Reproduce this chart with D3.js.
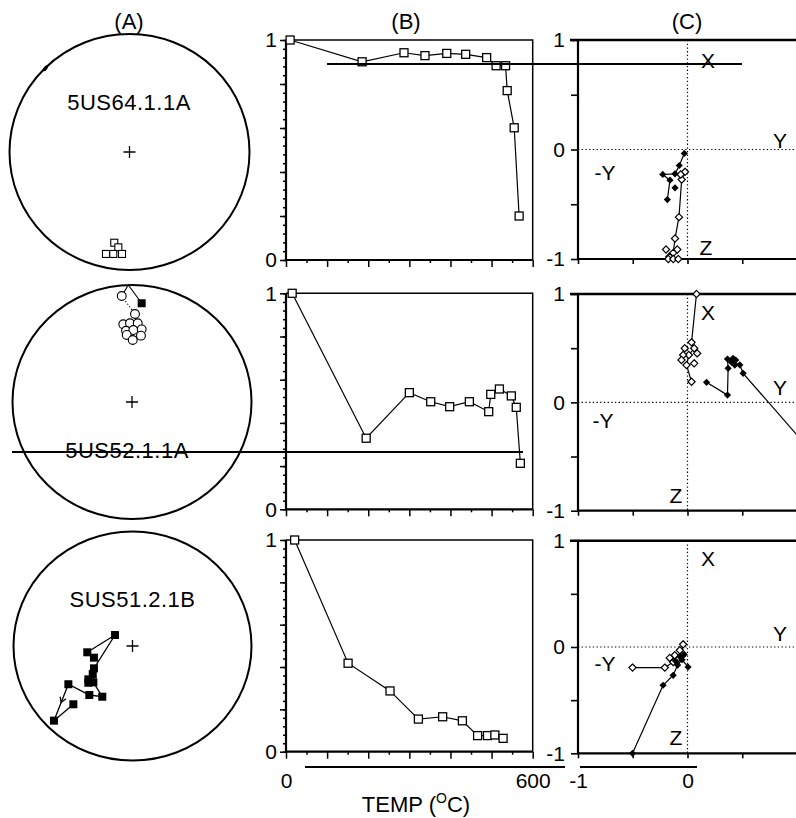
<!DOCTYPE html>
<html><head><meta charset="utf-8">
<script src="https://cdn.jsdelivr.net/npm/d3@7"></script>
<style>
body{margin:0;background:#fff}
svg{display:block}
text{font-family:"Liberation Sans",Arial,Helvetica,sans-serif;fill:#000}
</style>
</head><body>
<svg id="c" width="796" height="818"></svg>
<script>
// ---------------- DATA ----------------
const panelTitles = ["(A)", "(B)", "(C)"];
const sampleNames = ["5US64.1.1A", "5US52.1.1A", "SUS51.2.1B"];

// (B) normalized intensity vs temperature
const bTemp1 = [10, 185, 287, 338, 391, 437, 488, 511, 534, 538, 555, 567];
const bMag1  = [1.0, 0.901, 0.942, 0.929, 0.939, 0.935, 0.920, 0.883, 0.883, 0.770, 0.601, 0.20];
const bTemp2 = [15, 195, 300, 352, 398, 446, 493, 498, 519, 548, 560, 570];
const bMag2  = [1.0, 0.329, 0.540, 0.498, 0.475, 0.498, 0.452, 0.532, 0.557, 0.525, 0.472, 0.213];
const bTemp3 = [21, 151, 253, 322, 381, 429, 466, 490, 508, 528];
const bMag3  = [1.0, 0.418, 0.287, 0.154, 0.165, 0.146, 0.076, 0.076, 0.079, 0.063];
const bYTickLabels = [0, 1];
const bXTickLabels = [0, 600];

// (A) stereonet points, normalized east / north projection coordinates
const aOpenSq1 = [[-0.127,-0.769],[-0.093,-0.808],[-0.196,-0.864],[-0.135,-0.864],[-0.0625,-0.864]];
const aBlob1 = [[-0.70, 0.71]];
const aSolid2 = [[-0.086,0.906],[-0.031,1.0],[0.081,0.844]];
const aDotted2 = [[-0.086,0.906],[0.025,0.752]];
const aFilledSq2 = [[0.081,0.844]];
const aOpenCirc2 = [[-0.086,0.906],[0.025,0.752],[-0.073,0.664],[-0.017,0.673],[0.048,0.673],
  [-0.05,0.609],[0.011,0.615],[0.081,0.621],[-0.044,0.573],[0.075,0.567],[0.006,0.530]];
const aPath3 = [[-0.380,-0.055],[-0.147,0.096],[-0.324,-0.195],[-0.329,-0.317],[-0.254,-0.443],
  [-0.363,-0.428],[-0.539,-0.334],[-0.660,-0.652],[-0.497,-0.509]];
const aExtraSq3 = [[-0.324,-0.102],[-0.334,-0.245],[-0.371,-0.291],[-0.371,-0.321]];

// (C) orthogonal vector plots: [horizontal(Y), vertical(X / Z)]
const cFilled1 = [[-0.029,-0.036],[-0.075,-0.146],[-0.114,-0.222],[-0.226,-0.228],[-0.160,-0.280],[-0.184,-0.457]];
const cFilledX1 = [[-0.114,-0.350]];
const cOpen1 = [[-0.023,-0.204],[-0.053,-0.274],[-0.078,-0.618],[-0.114,-0.813],[-0.130,-0.944]];
const cOpenX1 = [[-0.062,-0.228],[-0.196,-0.913],[-0.093,-0.913],[-0.166,-0.980],[-0.175,-1.0],[-0.13,-1.0],[-0.084,-1.0]];
const cOpen2 = [[0.082,1.0],[0.037,0.554],[0.061,0.499],[0.012,0.437],[-0.009,0.344],[0.037,0.190]];
const cOpenX2 = [[-0.025,0.499],[-0.040,0.437],[0.088,0.452],[-0.055,0.391],[0.061,0.360]];
const cFilled2 = [[0.174,0.185],[0.365,0.067],[0.371,0.314],[0.365,0.400],[0.405,0.380],[0.478,0.345],[0.508,0.268],[1.15,-0.475]];
const cFilledX2 = [[0.402,0.369],[0.432,0.344],[0.416,0.406],[0.44,0.39]];
const cOpen3 = [[-0.502,-0.194],[-0.207,-0.194],[-0.131,-0.141],[-0.086,-0.109],[-0.055,-0.085],[-0.04,0.025]];
const cOpenX3 = [[-0.07,-0.031],[-0.116,-0.078],[-0.162,-0.103]];
const cFilled3 = [[-0.502,-1.0],[-0.223,-0.360],[-0.131,-0.266],[-0.09,-0.17],[-0.05,-0.12],[0.005,-0.188]];
const cFilledX3 = [[-0.11,-0.13],[-0.03,-0.07],[-0.07,-0.09]];
const cYTickLabels = [-1, 0, 1];
const cXTickLabels = [-1, 0];
const axisNames = ["X", "Y", "-Y", "Z"];

// ---------------- LAYOUT ----------------
const rows = [
  {a:{cx:129.5,cy:152,rx:120,ry:118}, name:{x:129,y:110}, b:{top:40,bot:260}, c:{top:40,bot:259},
   lab:{X:[708,60],Y:[780,140],"-Y":[605,172],Z:[706,247]}},
  {a:{cx:132,cy:402,rx:119.5,ry:117}, name:{x:127,y:458}, b:{top:293.3,bot:509.3}, c:{top:294,bot:510.7},
   lab:{X:[708,312],Y:[780,387],"-Y":[603,420],Z:[676,495]}},
  {a:{cx:132.5,cy:646,rx:119,ry:114.5}, name:{x:132.5,y:607}, b:{top:540,bot:751.7}, c:{top:540.7,bot:753.3},
   lab:{X:[708,558],Y:[780,633],"-Y":[605,663],Z:[676,737]}}
];
const bData = [[bTemp1,bMag1],[bTemp2,bMag2],[bTemp3,bMag3]];
const aData = [
  {openSq:aOpenSq1, blob:aBlob1},
  {solid:aSolid2, dotted:aDotted2, filledSq:aFilledSq2, openCirc:aOpenCirc2},
  {path:aPath3, filledSq:aPath3.concat(aExtraSq3), arrowSeg:6}
];
const cData = [
  {filled:cFilled1, filledX:cFilledX1, open:cOpen1, openX:cOpenX1},
  {filled:cFilled2, filledX:cFilledX2, open:cOpen2, openX:cOpenX2},
  {filled:cFilled3, filledX:cFilledX3, open:cOpen3, openX:cOpenX3}
];

const svg = d3.select("#c");
const line = d3.line();

// titles
[[129,29],[406,29],[687,29]].forEach((p,i)=>{
  svg.append("text").attr("x",p[0]).attr("y",p[1]).attr("text-anchor","middle")
    .attr("font-size",22).text(panelTitles[i]);
});

rows.forEach((r,i)=>{
  // ---------- A: stereonet ----------
  const gA = svg.append("g");
  const xA = d3.scaleLinear().domain([-1,1]).range([r.a.cx-r.a.rx, r.a.cx+r.a.rx]);
  const yA = d3.scaleLinear().domain([-1,1]).range([r.a.cy+r.a.ry, r.a.cy-r.a.ry]);
  gA.append("ellipse").attr("cx",xA(0)).attr("cy",yA(0)).attr("rx",r.a.rx).attr("ry",r.a.ry)
    .attr("fill","none").attr("stroke","#000").attr("stroke-width",2);
  gA.append("path").attr("d",`M${xA(0)-6},${yA(0)}H${xA(0)+6}M${xA(0)},${yA(0)-6}V${yA(0)+6}`)
    .attr("stroke","#000").attr("stroke-width",1.3);
  gA.append("text").attr("x",r.name.x).attr("y",r.name.y).attr("text-anchor","middle")
    .attr("font-size",22).attr("letter-spacing",0.5).text(sampleNames[i]);
  const d = aData[i];
  const P = p=>[xA(p[0]), yA(p[1])];
  if (d.blob) d.blob.forEach(p=>{
    gA.append("ellipse").attr("cx",P(p)[0]).attr("cy",P(p)[1]).attr("rx",3.5).attr("ry",1.8)
      .attr("transform",`rotate(-50,${P(p)[0]},${P(p)[1]})`).attr("fill","#000");
  });
  if (d.solid) gA.append("path").attr("d",line(d.solid.map(P))).attr("fill","none").attr("stroke","#000").attr("stroke-width",1.1);
  if (d.dotted) gA.append("path").attr("d",line(d.dotted.map(P))).attr("fill","none").attr("stroke","#000").attr("stroke-width",1.1).attr("stroke-dasharray","1.2,2");
  if (d.path) {
    gA.append("path").attr("d",line(d.path.map(P))).attr("fill","none").attr("stroke","#000").attr("stroke-width",1.3);
    const p0 = P(d.path[d.arrowSeg]), p1 = P(d.path[d.arrowSeg+1]);
    const mx=(p0[0]+p1[0])/2, my=(p0[1]+p1[1])/2, ang=Math.atan2(p1[1]-p0[1],p1[0]-p0[0]);
    const L=6, w=0.55;
    gA.append("path").attr("d",`M${mx-L*Math.cos(ang-w)},${my-L*Math.sin(ang-w)}L${mx},${my}L${mx-L*Math.cos(ang+w)},${my-L*Math.sin(ang+w)}`)
      .attr("fill","none").attr("stroke","#000").attr("stroke-width",1.3);
  }
  if (d.openSq) gA.selectAll(null).data(d.openSq).join("rect")
    .attr("x",p=>xA(p[0])-3.5).attr("y",p=>yA(p[1])-3.5).attr("width",7).attr("height",7)
    .attr("fill","#fff").attr("stroke","#000").attr("stroke-width",1.1);
  if (d.openCirc) gA.selectAll(null).data(d.openCirc).join("circle")
    .attr("cx",p=>xA(p[0])).attr("cy",p=>yA(p[1])).attr("r",4.4)
    .attr("fill","#fff").attr("stroke","#000").attr("stroke-width",1.1);
  if (d.filledSq) gA.selectAll(null).data(d.filledSq).join("rect")
    .attr("x",p=>xA(p[0])-4).attr("y",p=>yA(p[1])-4).attr("width",8).attr("height",8)
    .attr("fill","#000");

  // ---------- B: intensity decay ----------
  const gB = svg.append("g");
  const xB = d3.scaleLinear().domain([0,600]).range([286,532.7]);
  const yB = d3.scaleLinear().domain([0,1]).range([r.b.bot, r.b.top]);
  const fmt = labels => v => labels.some(l=>Math.abs(l-v)<1e-6) ? String(Math.round(v)) : "";
  gB.append("g").attr("transform",`translate(${xB(0)},0)`)
    .call(d3.axisLeft(yB).tickValues(d3.range(0,1.0001,0.04)).tickSize(3).tickFormat(""))
    .call(g=>g.select(".domain").remove());
  gB.append("g").attr("transform",`translate(${xB(0)},0)`)
    .call(d3.axisLeft(yB).tickValues(d3.range(0,1.0001,0.2)).tickSize(6).tickPadding(3).tickFormat(fmt(bYTickLabels)))
    .call(g=>g.select(".domain").remove())
    .call(g=>g.selectAll("text").attr("font-size",21).attr("font-family",null));
  gB.append("g").attr("transform",`translate(0,${yB(0)})`)
    .call(d3.axisBottom(xB).tickValues(d3.range(50,600,100)).tickSize(3).tickFormat(""))
    .call(g=>g.select(".domain").remove());
  gB.append("g").attr("transform",`translate(0,${yB(0)})`)
    .call(d3.axisBottom(xB).tickValues(d3.range(0,601,100)).tickSize(7).tickPadding(14)
      .tickFormat(i===2 ? fmt(bXTickLabels) : ""))
    .call(g=>g.select(".domain").remove())
    .call(g=>g.selectAll("text").attr("font-size",21).attr("font-family",null));
  gB.selectAll(".tick line").attr("stroke-width",1.5);
  // frame
  gB.append("path").attr("d",`M${xB(0)},${yB(1)}H${xB(600)}V${yB(0)}`).attr("fill","none").attr("stroke","#000").attr("stroke-width",1.5);
  gB.append("path").attr("d",`M${xB(0)},${yB(1)}V${yB(0)}H${xB(600)}`).attr("fill","none").attr("stroke","#000").attr("stroke-width",2.2);
  const pts = bData[i][0].map((t,k)=>[xB(t), yB(bData[i][1][k])]);
  gB.append("path").attr("d",line(pts)).attr("fill","none").attr("stroke","#000").attr("stroke-width",1.2);
  gB.selectAll(null).data(pts).join("rect")
    .attr("x",p=>p[0]-4).attr("y",p=>p[1]-4).attr("width",8).attr("height",8)
    .attr("fill","#fff").attr("stroke","#000").attr("stroke-width",1.3);

  // ---------- C: vector endpoint diagram ----------
  const gC = svg.append("g");
  const xC = d3.scaleLinear().domain([-1,1]).range([578,797]);
  const yC = d3.scaleLinear().domain([-1,1]).range([r.c.bot, r.c.top]);
  gC.append("path").attr("d",`M${xC(0)},${yC(1)}V${yC(-1)}M${xC(-1)},${yC(0)}H796`)
    .attr("stroke","#000").attr("stroke-width",1.2).attr("stroke-dasharray","1.3,2.4");
  gC.append("g").attr("transform",`translate(${xC(-1)},0)`)
    .call(d3.axisLeft(yC).tickValues([-1,-0.5,0,0.5,1]).tickSize(7).tickPadding(6).tickFormat(fmt(cYTickLabels)))
    .call(g=>g.select(".domain").remove())
    .call(g=>g.selectAll("text").attr("font-size",21).attr("font-family",null));
  gC.append("g").attr("transform",`translate(0,${yC(-1)})`)
    .call(d3.axisBottom(xC).tickValues([-1,-0.5,0,0.5]).tickSize(5).tickPadding(15)
      .tickFormat(i===2 ? fmt(cXTickLabels) : ""))
    .call(g=>g.select(".domain").remove())
    .call(g=>g.selectAll("text").attr("font-size",21).attr("font-family",null));
  gC.selectAll(".tick line").attr("stroke-width",1.6);
  gC.append("path").attr("d",`M${xC(-1)-8},${yC(1)}H796`).attr("stroke","#000").attr("stroke-width",2.6);
  gC.append("path").attr("d",`M${xC(-1)},${yC(1)}V${yC(-1)}H796`).attr("fill","none").attr("stroke","#000").attr("stroke-width",2.2);
  Object.entries(r.lab).forEach(([k,p])=>{
    gC.append("text").attr("x",p[0]).attr("y",p[1]).attr("text-anchor","middle").attr("dy","0.36em")
      .attr("font-size",21).text(axisNames[axisNames.indexOf(k)]);
  });
  const cd = cData[i];
  const Q = p=>[xC(p[0]), yC(p[1])];
  const diamond = (x,y,s)=>`M${x},${y-s}L${x+s},${y}L${x},${y+s}L${x-s},${y}Z`;
  gC.append("path").attr("d",line(cd.open.map(Q))).attr("fill","none").attr("stroke","#000").attr("stroke-width",1.2);
  gC.append("path").attr("d",line(cd.filled.map(Q))).attr("fill","none").attr("stroke","#000").attr("stroke-width",1.2);
  gC.selectAll(null).data(cd.open.concat(cd.openX)).join("path")
    .attr("d",p=>diamond(Q(p)[0],Q(p)[1],3.6)).attr("fill","#fff").attr("stroke","#000").attr("stroke-width",1.2);
  gC.selectAll(null).data(cd.filled.concat(cd.filledX)).join("path")
    .attr("d",p=>diamond(Q(p)[0],Q(p)[1],3.6)).attr("fill","#000");
});

// stray horizontal rules present in the reference image
[[327,742,64],[12,523,452],[305,565,767],[580,697,767]].forEach(s=>{
  svg.append("line").attr("x1",s[0]).attr("x2",s[1]).attr("y1",s[2]).attr("y2",s[2])
    .attr("stroke","#000").attr("stroke-width",2);
});

// x axis title
const tt = svg.append("text").attr("x",416).attr("y",812).attr("text-anchor","middle").attr("font-size",22);
tt.append("tspan").text("TEMP (");
tt.append("tspan").attr("font-size",14).attr("dy",-9).text("O");
tt.append("tspan").attr("dy",9).text("C)");
</script>
</body></html>
